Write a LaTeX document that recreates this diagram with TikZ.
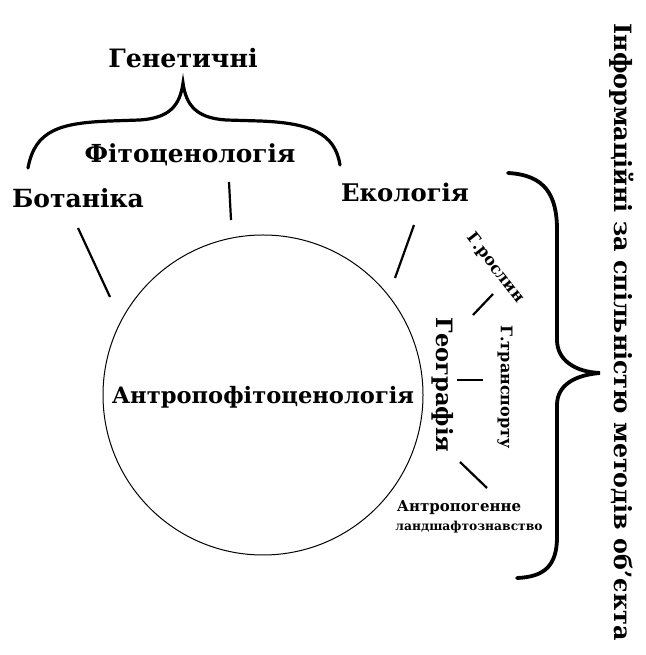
\documentclass[tikz,border=0pt]{standalone}
\usepackage{fontspec}
\setmainfont{DejaVu Serif}
\begin{document}
\begin{tikzpicture}[x=1pt,y=1pt,
  lbl/.style={font=\bfseries\fontsize{25}{27}\selectfont, inner sep=0pt},
  midlbl/.style={font=\bfseries\fontsize{22.5}{24}\selectfont, inner sep=0pt},
  smalllbl/.style={font=\bfseries\fontsize{16}{18}\selectfont, inner sep=0pt},
  tick/.style={line width=2.2pt},
  brace/.style={line width=3.2pt, line cap=round}]
\useasboundingbox (0,0) rectangle (645,655);
% texts
\node[lbl, font=\bfseries\fontsize{25.3}{27}\selectfont] (gen) at (183,597) {Генетичні};
\node[lbl, font=\bfseries\fontsize{24.8}{27}\selectfont] (fit) at (190,500) {Фітоценологія};
\node[lbl] (bot) at (78,457) {Ботаніка};
\node[lbl, font=\bfseries\fontsize{24.3}{27}\selectfont] (eko) at (405,463) {Екологія};
\node[draw, circle, line width=1pt, minimum size=320pt, inner sep=0pt] (circ) at (263,260) {};
\node[midlbl, font=\bfseries\fontsize{22.6}{24}\selectfont] (antro) at (263,258) {Антропофітоценологія};
\node[smalllbl, rotate=-52] (ros) at (495,387) {Г.рослин};
\node[midlbl, rotate=-90] (geo) at (443,270) {Географія};
\node[smalllbl, rotate=-90] (tra) at (505,268) {Г.транспорту};
\node[smalllbl, font=\bfseries\fontsize{15}{18}\selectfont] (land1) at (459,147) {Антропогенне};
\node[smalllbl, font=\bfseries\fontsize{12.3}{18}\selectfont] (land2) at (469,128) {ландшафтознавство};
\node[lbl, font=\bfseries\fontsize{23.8}{26}\selectfont, rotate=-90] (info) at (622,323) {Інформаційні за спільністю методів об'єкта};
% tick coordinates
\coordinate (b1) at (78,427); \coordinate (b2) at (110,358);
\coordinate (f1) at (229,473); \coordinate (f2) at (231,435);
\coordinate (e1) at (414,430); \coordinate (e2) at (395,377);
\coordinate (r1) at (493,361); \coordinate (r2) at (473,340);
\coordinate (g1) at (457,275); \coordinate (g2) at (483,275);
\coordinate (l1) at (460,193); \coordinate (l2) at (487,167);
\draw[tick] (b1) -- (b2);
\draw[tick] (f1) -- (f2);
\draw[tick] (e1) -- (e2);
\draw[tick] (r1) -- (r2);
\draw[tick] (g1) -- (g2);
\draw[tick] (l1) -- (l2);
% top brace
\draw[brace] (28,487) .. controls (35,525) and (60,532) .. (110,534) -- (140,535)
  .. controls (170,537) and (180,550) .. (183,572)
  .. controls (186,550) and (196,537) .. (226,535) -- (260,534)
  .. controls (310,532) and (335,522) .. (340,490);
% right brace
\draw[brace, line width=3.8pt] (508,482) .. controls (545,480) and (557,460) .. (557,425) -- (557,315)
  .. controls (557,295) and (575,283) .. (600,282)
  .. controls (575,280) and (557,270) .. (557,250) -- (557,118)
  .. controls (557,90) and (545,78) .. (517,77);
\end{tikzpicture}
\end{document}
